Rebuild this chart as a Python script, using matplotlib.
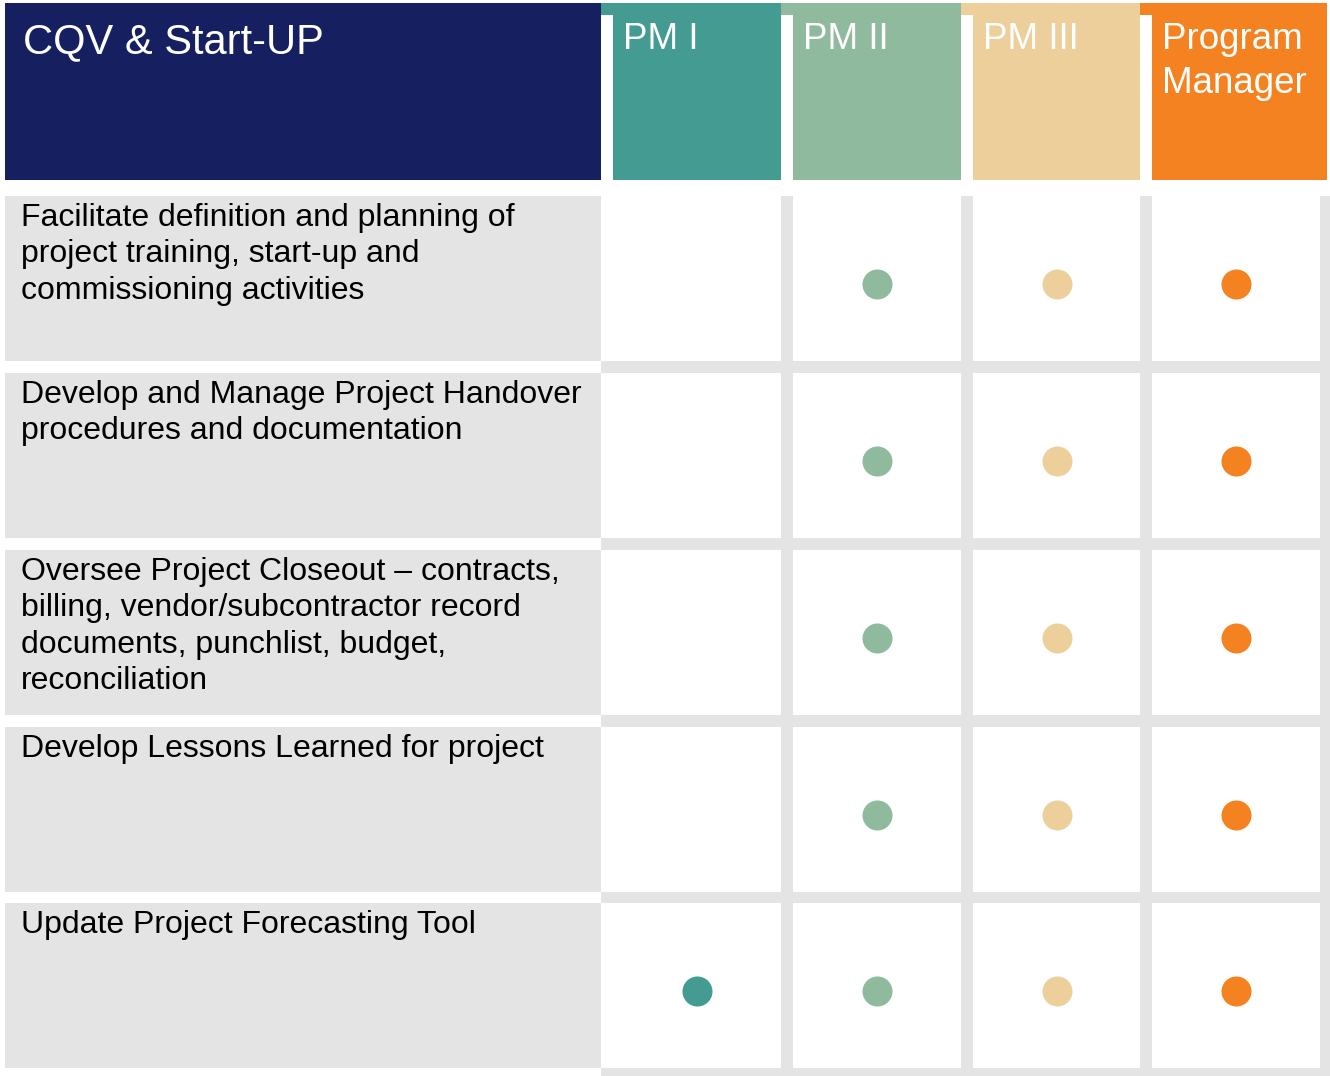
import matplotlib.pyplot as plt
from matplotlib.patches import Rectangle

plt.rcParams['font.family'] = ['Liberation Sans', 'DejaVu Sans']

# Data
title = "CQV & Start-UP"
roles = ["PM I", "PM II", "PM III", "Program\nManager"]
tasks = [
    "Facilitate definition and planning of\nproject training, start-up and\ncommissioning activities",
    "Develop and Manage Project Handover\nprocedures and documentation",
    "Oversee Project Closeout \u2013 contracts,\nbilling, vendor/subcontractor record\ndocuments, punchlist, budget,\nreconciliation",
    "Develop Lessons Learned for project",
    "Update Project Forecasting Tool",
]
pm1 = [0, 0, 0, 0, 1]
pm2 = [1, 1, 1, 1, 1]
pm3 = [1, 1, 1, 1, 1]
prog_mgr = [1, 1, 1, 1, 1]

navy = '#161f5f'
role_colors = ['#439b91', '#8fba9e', '#edcf9b', '#f58220']
gray = '#e4e4e4'

# layout (pixels)
W, H = 1330, 1076
col_left = [601, 781, 961, 1140]     # header cell incl. white gap
cell_left = [601, 793, 973, 1152]    # white body cells
cell_right = [781, 961, 1140, 1320]
row_top = [196, 373, 550, 727, 903]
row_h = 165

fig = plt.figure(figsize=(13.3, 10.76), dpi=100)
ax = fig.add_axes([0, 0, 1, 1])
ax.set_xlim(0, W)
ax.set_ylim(H, 0)
ax.axis('off')

# header
ax.add_patch(Rectangle((5, 3), 596, 177, color=navy, lw=0))
ax.text(23, 22, title, color='white', fontsize=30, va='top', ha='left')
hdr_right = [781, 961, 1140, 1327]
for i, r in enumerate(roles):
    ax.add_patch(Rectangle((col_left[i], 3), hdr_right[i] - col_left[i], 177,
                           color=role_colors[i], lw=0))
    ax.add_patch(Rectangle((col_left[i], 15), 12, 165, color='white', lw=0))
    ax.text(col_left[i] + 22, 22, r, color='white', fontsize=26.5,
            va='top', ha='left', linespacing=1.33)

# body grid
ax.add_patch(Rectangle((601, 196), W - 601, H - 196, color=gray, lw=0))
for j, t in enumerate(tasks):
    y0 = row_top[j]
    ax.add_patch(Rectangle((5, y0), 596, row_h, color=gray, lw=0))
    ax.text(21, y0 + 7, t, fontsize=23, va='top', ha='left', color='black',
            linespacing=1.28)
    for i in range(4):
        ax.add_patch(Rectangle((cell_left[i], y0), cell_right[i] - cell_left[i],
                               row_h, color='white', lw=0))

# dots
marks = [pm1, pm2, pm3, prog_mgr]
for i, m in enumerate(marks):
    cx = (col_left[i] + 12 + cell_right[i]) / 2
    xs = [cx for v in m if v]
    ys = [row_top[j] + row_h / 2 + 5 for j, v in enumerate(m) if v]
    ax.scatter(xs, ys, s=467, color=role_colors[i], lw=0, zorder=5)

fig.savefig('out.png', dpi=100)
